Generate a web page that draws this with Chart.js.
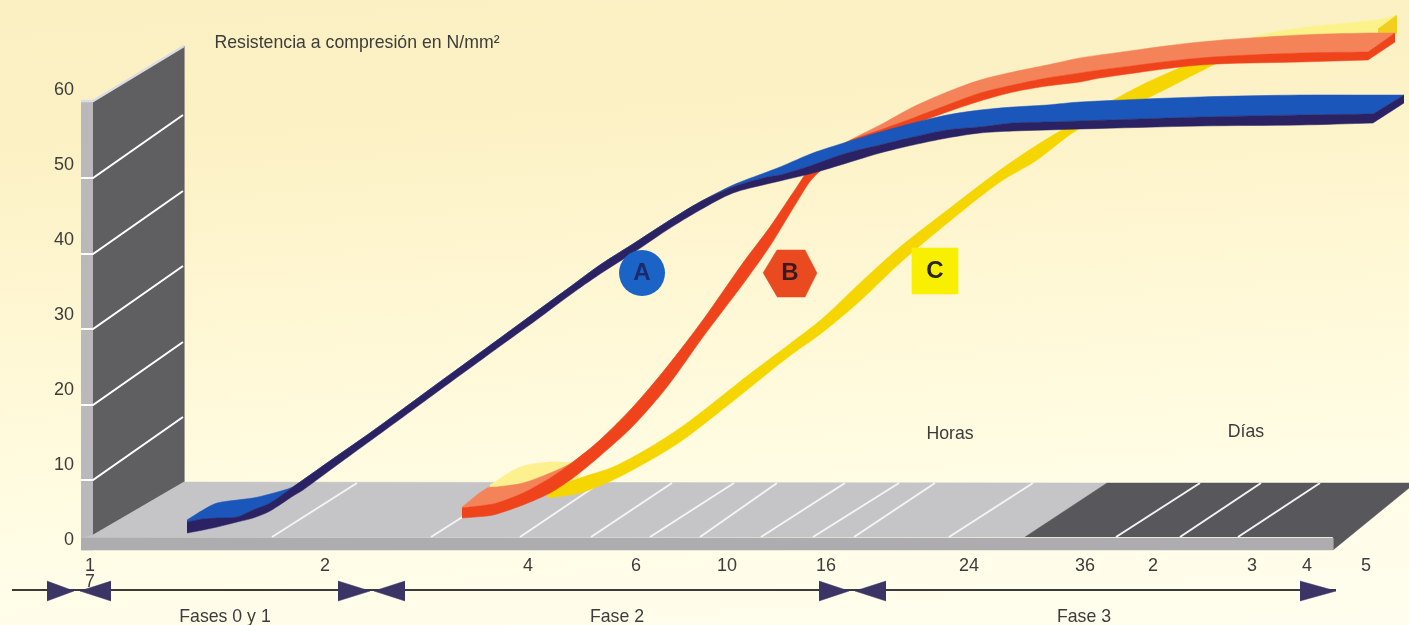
<!DOCTYPE html>
<html>
<head>
<meta charset="utf-8">
<title>Resistencia a compresión</title>
<script src="https://cdn.jsdelivr.net/npm/chart.js@4"></script>
<style>
  html, body { margin: 0; padding: 0; }
  body { width: 1409px; height: 625px; overflow: hidden;
    background: linear-gradient(176deg, #fbf0c2 0%, #fcf1c4 20%, #fff8d6 50%, #fffde6 78%, #fffeee 100%); }
  canvas { display: block; }
</style>
</head>
<body>
<canvas id="chart" width="1409" height="625"></canvas>
<script>
// axis ticks
const yTicks = [0, 10, 20, 30, 40, 50, 60];
const xTickPos = [0, 235, 438, 546, 637, 736, 879, 995, 1063, 1162, 1217, 1276];
const xTickLabels = ["1", "2", "4", "6", "10", "16", "24", "36", "2", "3", "4", "5"];

// curve A
const aX = [97, 113, 127, 147, 163, 180, 203, 213, 247, 280, 313, 347, 380, 413, 447, 480, 510, 543, 577, 610, 643, 677, 690, 723, 757, 790, 823, 857, 890, 923, 957, 990, 1110, 1210, 1283];
const aLow = [2.53, 2.93, 3.33, 4, 4.53, 5.47, 7.47, 8.27, 11.6, 14.8, 18, 21.33, 24.53, 27.73, 31, 34.27, 37.07, 39.87, 42.93, 45.6, 47.87, 49.07, 49.47, 50.53, 51.87, 53.2, 54.27, 55.2, 55.87, 56.13, 56.27, 56.4, 56.8, 56.93, 57.2];
const aMid = [4, 4.4, 4.53, 4.67, 5.6, 6.53, 8.67, 9.6, 12.8, 15.87, 19.07, 22.4, 25.6, 28.8, 32.13, 35.33, 38.27, 41.07, 44, 46.67, 48.67, 50, 50.27, 51.6, 53.2, 54.27, 55.33, 56.27, 56.67, 57.2, 57.33, 57.47, 58, 58.27, 58.4];
const aTop = [4.27, 5.6, 6.53, 6.93, 7.2, 7.73, 8.67, 9.6, 12.8, 15.87, 19.07, 22.4, 25.6, 28.8, 32.13, 35.33, 38.27, 41.07, 44, 46.67, 48.93, 50.67, 51.33, 53.2, 54.67, 56, 57.2, 58.27, 58.93, 59.33, 59.6, 60, 60.67, 60.93, 60.93];
const aCapX = [1283, 1314];
const aCapLow = [57.2, 59.87];
const aCapMid = [58.4, 60.93];
const aCapTop = [60.93, 60.93];

// curve B
const bX = [372, 397, 407, 433, 460, 483, 510, 543, 577, 613, 653, 680, 707, 723, 757, 790, 823, 857, 890, 923, 957, 990, 1010, 1110, 1210, 1278];
const bLow = [4.53, 4.8, 5.07, 6.27, 7.87, 9.87, 12.8, 16.8, 22, 28.67, 35.73, 40.8, 46.67, 49.87, 53.6, 55.87, 57.07, 58.67, 60.13, 61.33, 62.13, 62.67, 63.2, 64.93, 65.33, 65.6];
const bMid = [5.87, 6.27, 6.53, 7.87, 9.87, 12, 14.93, 19.33, 24.67, 30.93, 38.53, 43.33, 48.67, 51.6, 54.67, 56.27, 57.87, 59.6, 61.2, 62.27, 63.2, 63.87, 64.27, 65.87, 66.53, 66.67];
const bTop = [6, 8.53, 8.67, 9.2, 10.53, 12, 14.93, 19.33, 24.67, 30.93, 38.53, 43.33, 48.67, 51.6, 54.67, 56.93, 59.33, 61.33, 62.93, 64, 64.93, 65.87, 66.27, 68, 68.93, 69.2];
const bCapX = [1278, 1305];
const bCapLow = [65.6, 68];
const bCapMid = [66.67, 69.2];
const bCapTop = [69.2, 69.2];

// curve C
const cX = [457, 490, 523, 557, 590, 623, 657, 697, 733, 770, 810, 860, 910, 947, 987, 1027, 1060, 1127];
const cLow = [7.2, 7.87, 9.6, 12, 14.67, 18, 21.6, 25.87, 29.33, 33.47, 38.53, 44.13, 49.33, 52.27, 56.27, 58.67, 60.67, 65.2];
const cHigh = [8.27, 9.87, 11.33, 13.73, 16.53, 19.87, 23.47, 27.47, 31.2, 35.87, 40.67, 45.87, 50.93, 54.27, 57.47, 60.53, 62.8, 66.67];
const cStartX = [400, 430, 460, 490];
const cStartHigh = [8.93, 11.33, 12, 11.87];
const cStartLow = [8.27, 8.27, 8.27, 9.6];
const cEndX = [1127, 1160, 1210, 1287, 1307];
const cEndHigh = [66.13, 68.53, 69.87, 70.93, 71.6];
const cEndLow = [65.33, 66.93, 67.6, 68.27, 69.2];
const cCapX = [1288, 1307];
const cCapHigh = [69.73, 71.6];
const cCapLow = [68.27, 69.2];

// wall and floor of the box
const columnX = [-9, 3, 3, -9];
const columnY = [60.13, 60.13, 0.27, 0.27];
const wallX = [3, 94, 94, 3];
const wallY = [60.13, 67.47, 9.33, 2.27];
const floorX = [-9, 3, 94, 1017, 935];
const floorY = [1.87, 2.27, 9.33, 9.2, 2];
const stripX = [-9, 1243, 1243, -9];
const stripY = [1.87, 1.87, 0.27, 0.27];
const daysX = [935, 1017, 1319, 1319, 1243, 1243];
const daysY = [2, 9.2, 9.2, 8.53, 0.27, 2];
const wallLevels = [49.87, 39.73, 29.73, 19.6, 9.6];
const floorFront = [182, 341, 430, 501, 560, 610, 671, 723, 764, 859, 1026, 1090, 1148];
const floorBack = [267, 426, 510, 582, 644, 687, 755, 809, 845, 943, 1110, 1171, 1230];

// phase arrows below the axis
const arrowBase = [-43, 21, 248, 315, 729, 796, 1210];
const arrowTip = [-16, -10, 280, 284, 759, 765, 1246];

// badges
const hexX = [673, 687, 715, 727, 715, 687];
const hexY = [37.2, 40.27, 40.27, 37.2, 34, 34];
const noteText = ["Resistencia a compresión en N/mm²", "Horas", "Días", "7", "Fases 0 y 1", "Fase 2", "Fase 3"];
const noteX = [267, 860, 1156, 0, 135, 527, 994];
const noteY = [67.87, 15.73, 16, -4, -8.67, -8.67, -8.67];
const badgeText = ["A", "B", "C"];
const badgeX = [552, 700, 845];
const badgeY = [37.2, 37.2, 37.47];
const badgeInk = ["#1c2a6a", "#3a1a20", "#2a2420"];

function points(xs, ys) {
  return xs.map((x, i) => ({ x: x, y: ys[i] }));
}

function shape(xs, ys, color) {
  return {
    data: points(xs, ys),
    fill: "shape",
    backgroundColor: color,
    borderColor: color,
    borderWidth: 0.5,
    pointRadius: 0,
    tension: 0,
  };
}

// band between two edges on the same x stations: lower edge, then the upper one filled down to it.
// The list is reversed before drawing, so "+1" ends up pointing at the lower edge.
function band(xs, high, low, color, tension) {
  const edge = { backgroundColor: color, borderColor: color, borderWidth: 0.5, pointRadius: 0, tension: tension };
  return [
    Object.assign({ data: points(xs, low), fill: false }, edge),
    Object.assign({ data: points(xs, high), fill: "+1" }, edge),
  ];
}

function stroke(xs, ys, color, width) {
  return { data: points(xs, ys), fill: false, borderColor: color, borderWidth: width, pointRadius: 0, tension: 0 };
}

function marker(x, y, style, radius, color) {
  return {
    data: [{ x: x, y: y }],
    showLine: false,
    pointStyle: style,
    pointRadius: radius,
    pointBackgroundColor: color,
    pointBorderColor: color,
    pointBorderWidth: 0,
  };
}

// listed from back to front
const layers = [
  shape(columnX, columnY, "#b9b9bb"),
  shape(wallX, wallY, "#5f5f62"),
  shape(floorX, floorY, "#c5c5c7"),
  shape(daysX, daysY, "#58585c"),
  shape(stripX, stripY, "#adadaf"),
  stroke([-9, 3, 94], [60.13, 60.13, 67.47], "#dcdce2", 2.5),
];

wallLevels.forEach((v) => {
  layers.push(stroke([-9, 3, 93], [v, v, v + 8.4], "#ffffff", 2));
});
floorFront.forEach((x, i) => {
  layers.push(stroke([x, floorBack[i]], [2, 9.2], "#f4f4f4", 2));
});

layers.push(
  ...band(cStartX, cStartHigh, cStartLow, "#fdf08e", 0.3),
  ...band(cEndX, cEndHigh, cEndLow, "#fbf28a", 0.3),
  ...band(cCapX, cCapHigh, cCapLow, "#f2cf1e", 0),
  ...band(cX, cHigh, cLow, "#f6d600", 0.3),
  ...band(bCapX, bCapTop, bCapMid, "#f5835a", 0),
  ...band(bCapX, bCapMid, bCapLow, "#ef431c", 0),
  ...band(bX, bTop, bMid, "#f5835a", 0.3),
  ...band(bX, bMid, bLow, "#ef431c", 0.3),
  ...band(aCapX, aCapTop, aCapMid, "#1b56bb", 0),
  ...band(aCapX, aCapMid, aCapLow, "#2a2263", 0),
  ...band(aX, aTop, aMid, "#1b56bb", 0.3),
  ...band(aX, aMid, aLow, "#2a2263", 0.3),
  stroke([-78, 1246], [-5.07, -5.07], "#3a3a3a", 2)
);

arrowBase.forEach((base, i) => {
  layers.push(shape([base, arrowTip[i], base], [-3.87, -5.2, -6.53], "#3a3564"));
});

layers.push(
  marker(badgeX[0], badgeY[0], "circle", 23, "#1b63c6"),
  shape(hexX, hexY, "#ea4a20"),
  marker(badgeX[2], badgeY[2], "rect", 33, "#f8f000")
);

// plain text placed through the scales
const notesPlugin = {
  id: "notes",
  afterDatasetsDraw(chart) {
    const { ctx, scales } = chart;
    ctx.save();
    ctx.textAlign = "center";
    ctx.textBaseline = "middle";
    ctx.fillStyle = "#3c3c3c";
    ctx.font = "17.7px 'Liberation Sans'";
    noteText.forEach((t, i) => {
      ctx.fillText(t, scales.x.getPixelForValue(noteX[i]), scales.y.getPixelForValue(noteY[i]));
    });
    ctx.font = "bold 24px 'Liberation Sans'";
    badgeText.forEach((t, i) => {
      ctx.fillStyle = badgeInk[i];
      ctx.fillText(t, scales.x.getPixelForValue(badgeX[i]), scales.y.getPixelForValue(badgeY[i]));
    });
    ctx.restore();
  },
};

// tick labels should not pull the plot area in
function noAxisPadding(scale) {
  scale.paddingTop = 0;
  scale.paddingBottom = 0;
  scale.paddingLeft = 0;
  scale.paddingRight = 0;
}

new Chart(document.getElementById("chart"), {
  type: "line",
  data: { datasets: layers.reverse() },
  plugins: [notesPlugin],
  options: {
    responsive: false,
    animation: false,
    // the big badge markers must not shrink the plot area
    layout: { autoPadding: false, padding: 0 },
    plugins: { legend: { display: false }, tooltip: { enabled: false }, title: { display: false } },
    scales: {
      x: {
        type: "linear",
        position: { y: 0 },
        min: -90,
        max: 1319,
        grid: { display: false, drawTicks: false },
        border: { display: false },
        afterFit: noAxisPadding,
        afterBuildTicks: (scale) => { scale.ticks = xTickPos.map((v) => ({ value: v })); },
        ticks: {
          autoSkip: false,
          maxRotation: 0,
          padding: 3,
          color: "#3c3c3c",
          font: { family: "'Liberation Sans'", size: 18 },
          callback: (value) => xTickLabels[xTickPos.indexOf(value)],
        },
      },
      y: {
        type: "linear",
        position: { x: -16 },
        min: -9.73,
        max: 73.6,
        grid: { display: false, drawTicks: false },
        border: { display: false },
        afterFit: noAxisPadding,
        afterBuildTicks: (scale) => { scale.ticks = yTicks.map((v) => ({ value: v })); },
        ticks: {
          labelOffset: -12,
          color: "#3c3c3c",
          font: { family: "'Liberation Sans'", size: 18 },
        },
      },
    },
  },
});
</script>
</body>
</html>
